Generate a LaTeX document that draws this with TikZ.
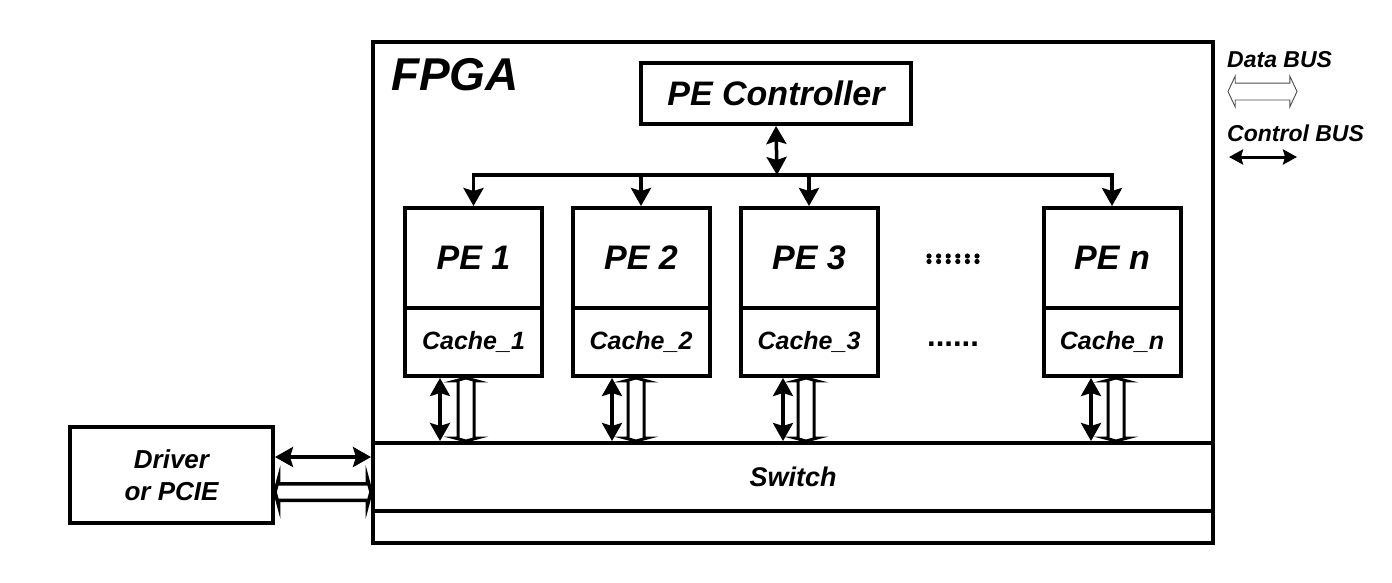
\documentclass[tikz,border=0pt]{standalone}
\usepackage{fontspec}
\setmainfont{Liberation Sans}
\usepackage{tikz}
\usetikzlibrary{arrows.meta, positioning, shapes.arrows, calc}

% hollow two-way data bus between two named points
\newcommand\databus[3][]{%
  \path let \p1=($(#3)-(#2)$), \n1={veclen(\x1,\y1)}, \n2={atan2(\y1,\x1)} in
    node[dbus,#1,minimum height=\n1,rotate=\n2] at ($(#2)!0.5!(#3)$) {};}

\begin{document}
\begin{tikzpicture}[x=1pt,y=-1pt,
    box/.style={draw,line width=4pt,inner sep=0pt,align=center},
    pebox/.style={box,minimum width=137pt,minimum height=100pt,
      font=\fontsize{34}{40}\selectfont\bfseries\itshape},
    cachebox/.style={box,minimum width=137pt,minimum height=68pt,
      font=\fontsize{25}{29}\selectfont\bfseries\itshape},
    lbl/.style={inner sep=0pt,font=\fontsize{23}{27}\selectfont\bfseries\itshape},
    dots/.style={inner sep=0pt,font=\fontsize{31}{36}\selectfont\bfseries},
    ctlbus/.style={line width=3.5pt},
    dbus/.style={double arrow,draw,fill=white,line width=3pt,inner xsep=0pt,
      inner ysep=6.5pt,minimum width=0pt,double arrow head extend=3pt,
      double arrow tip angle=150},
    drvbus/.style={line width=3.5pt,inner ysep=6.5pt,double arrow head extend=5pt},
    legbus/.style={line width=0.9pt,draw=black!70,inner ysep=8pt,
      double arrow head extend=7pt,double arrow tip angle=130},
    legctl/.style={line width=3pt,
      {Stealth[length=14pt,width=15pt,inset=2pt]}-{Stealth[length=14pt,width=15pt,inset=2pt]}},
    >={Stealth[length=18pt,width=20pt,inset=3pt]}
  ]
  \useasboundingbox (0,0) rectangle (1392,582);

  % FPGA frame, controller and switch
  \node[box,minimum width=840pt,minimum height=501pt] (fpga) at (793,292.5) {};
  \node[anchor=base west,inner sep=0pt,
    font=\fontsize{46}{50}\selectfont\bfseries\itshape] (fpgalbl) at (391,90) {FPGA};
  \node[box,minimum width=270pt,minimum height=61pt,
    font=\fontsize{34}{38}\selectfont\bfseries\itshape] (pectrl) at (776,93.5) {PE Controller};
  \node[box,minimum width=840pt,minimum height=68pt,
    font=\fontsize{27}{30}\selectfont\bfseries\itshape] (switch) at (793,477) {Switch};

  % host side
  \node[box,minimum width=203pt,minimum height=96pt,
    font=\fontsize{26}{32}\selectfont\bfseries\itshape] (driver) at (171.5,475) {Driver\\or PCIE};

  % processing elements with their caches
  \foreach \k/\px/\cs/\ds in {1/473.5/-33.5pt/-7.5pt, 2/641/-29pt/-5pt,
                              3/809/-26pt/-3pt, n/1112/-21pt/4pt} {
    \node[pebox] (pe\k) at (\px,258) {PE \k};
    \node[cachebox] (cache\k) at (\px,342) {Cache\_\k};
    \draw[ctlbus,<->] ([xshift=\cs]cache\k.south) -- ([xshift=\cs]cache\k.south |- switch.north);
    \coordinate (dt\k) at ([xshift=\ds]cache\k.south);
    \coordinate (db\k) at ([xshift=\ds]cache\k.south |- switch.north);
    \databus{dt\k}{db\k}
  }
  % more PEs
  \foreach \i in {0,...,5} {
    \fill (929+9.6*\i,256) circle (2.6);
    \fill (929+9.6*\i,261.5) circle (2.6);
  }
  \node[dots,anchor=base] (cachedots) at (953,346) {......};

  % control bus from the controller
  \coordinate (bus) at (777,175);
  \draw[ctlbus,<->] (pectrl.south) -- (bus);
  \draw[ctlbus,->] (bus) -| (pe1.north);
  \draw[ctlbus,->] (bus) -| (pen.north);
  \draw[ctlbus,->] (bus -| pe2.north) -- (pe2.north);
  \draw[ctlbus,->] (bus -| pe3.north) -- (pe3.north);

  % driver to switch
  \draw[ctlbus,<->] ([yshift=18pt]driver.east) -- ([yshift=18pt]driver.east -| switch.west);
  \coordinate (hl) at ([yshift=-17pt]driver.east);
  \coordinate (hr) at ([yshift=-17pt]driver.east -| switch.west);
  \databus[drvbus]{hl}{hr}

  % legend
  \node[lbl,anchor=west] (datalbl) at (1227,60) {Data BUS};
  \node[lbl,anchor=west] (ctllbl) at (1227,133) {Control BUS};
  \coordinate (dl) at (1228,91.5);
  \coordinate (dr) at (1297,91.5);
  \coordinate (cl) at (1229,157);
  \coordinate (cr) at (1297,157);
  \databus[legbus]{dl}{dr}
  \draw[legctl] (cl) -- (cr);
\end{tikzpicture}
\end{document}
